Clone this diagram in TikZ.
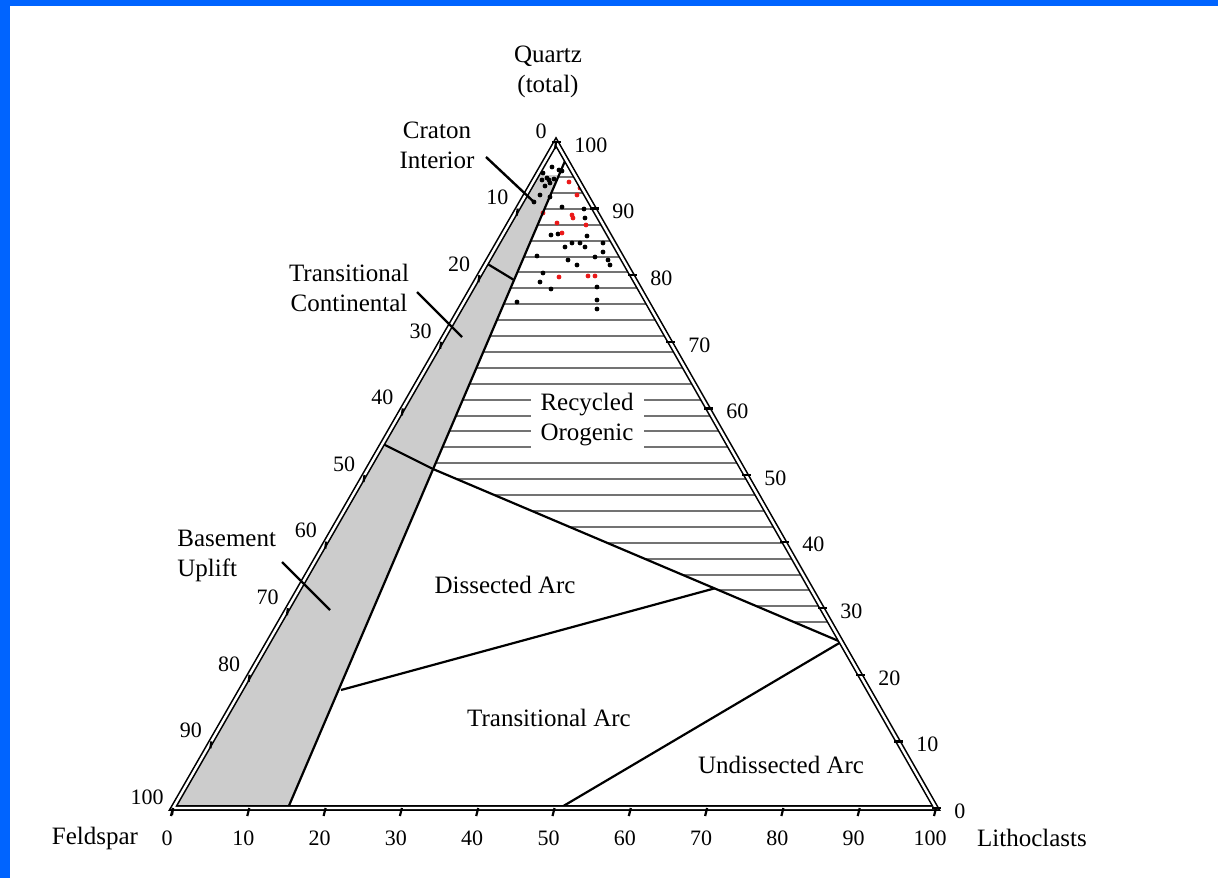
\documentclass[tikz,border=0pt]{standalone}
\usepackage{fontspec}
\setmainfont{Liberation Serif}
\usetikzlibrary{calc}
\definecolor{frameblue}{RGB}{0,100,255}
\definecolor{band}{RGB}{204,204,204}
\definecolor{dotred}{RGB}{235,25,25}
\tikzset{
  frame/.style={double,double distance=1.2pt,line width=0.8pt},
  field/.style={line width=1.1pt},
  hatch/.style={draw=black!55,line width=1pt},
  tickmark/.style={line width=1.1pt},
  num/.style={font=\fontsize{11}{13}\selectfont,inner sep=0pt},
  lab/.style={font=\fontsize{12.5}{15}\selectfont,align=center,inner sep=0pt},
  leader/.style={line width=1.2pt},
}
\begin{document}
\begin{tikzpicture}[x=0.5pt,y=-0.5pt]
  \useasboundingbox (0,0) rectangle (1218,878);
  \fill[frameblue] (0,0) rectangle (1218,6);
  \fill[frameblue] (0,0) rectangle (10,878);
  % corners of the diagram
  \coordinate (Q) at (556,142);
  \coordinate (F) at (173,808);
  \coordinate (L) at (936,808);
  % field boundaries
  \coordinate (ktop) at (565,161);
  \coordinate (kbot) at (288,808);
  \coordinate (ct1) at (486,263);
  \coordinate (ct2) at (514,280);
  \coordinate (bu1) at (383,444);
  \coordinate (bu2) at (433,469);
  \coordinate (ro) at (841,642);
  \coordinate (da1) at (341,690);
  \coordinate (da2) at ($(bu2)!0.69!(ro)$);
  \coordinate (ua) at (560,808);
  % continental block
  \fill[band] (537,175) -- (559,175) -- (kbot) -- (F) -- cycle;
  % recycled orogen hatching
  \begin{scope}
    \clip (ktop) -- (bu2) -- (ro) -- cycle;
    \foreach \k in {0,...,28}
      \draw[hatch] (400,177+15.9*\k) -- (900,177+15.9*\k);
  \end{scope}
  \node[lab,fill=white,inner xsep=5pt,inner ysep=3pt] (recyc) at (587,420) {Recycled\\Orogenic};
  % data points
  \foreach \x/\y in {552/167,559/170,543/173,547/178,549/180,554/179,542/180,562/171,
    545/186,550/183,540/195,534/202,550/197,562/207,584/209,597/214,551/235,558/234,
    537/256,568/260,577/265,587/236,580/243,595/257,603/252,608/260,610/265,540/282,
    543/273,551/289,597/287,517/302,597/300,597/309,565/247,572/243,585/247,603/243,585/218}
    \fill (\x,\y) circle (2.4);
  \foreach \x/\y in {569/182,580/188,577/195,543/213,572/215,573/218,557/223,586/225,
    605/227,562/233,559/277,588/276,595/276}
    \fill[dotred] (\x,\y) circle (2.4);
  % field lines
  \draw[field] (ktop) -- (kbot);
  \draw[field] (ct1) -- (ct2);
  \draw[field] (bu1) -- (bu2) -- (ro);
  \draw[field] (da1) -- (da2);
  \draw[field] (ro) -- (ua);
  % outline
  \draw[frame] (Q) -- (F) -- (L) -- cycle;
  % ticks and numbers
  \foreach \i in {0,...,10}{
    \pgfmathtruncatemacro{\v}{10*\i}
    \pgfmathtruncatemacro{\w}{100-10*\i}
    \coordinate (tf\i) at ($(Q)!\i/10!(F)$);
    \coordinate (tq\i) at ($(Q)!\i/10!(L)$);
    \coordinate (tl\i) at ($(F)!\i/10!(L)$);
    \draw[tickmark] (tf\i) -- ++(-1,7);
    \draw[tickmark] (tq\i) ++(-4,0) -- ++(9,0);
    \draw[tickmark] (tl\i) -- ++(-2,8);
    \node[num,anchor=east] (nf\i) at ($(tf\i)+(-9,-11)$) {\v};
    \node[num,anchor=west] (nq\i) at ($(tq\i)+(18,3)$) {\w};
    \node[num] (nl\i) at ($(tl\i)+(-6,30)$) {\v};
  }
  % corner names
  \node[lab] (quartz) at (548,72) {Quartz\\(total)};
  \node[lab] (feld) at (95,838) {Feldspar};
  \node[lab] (litho) at (1032,838) {Lithoclasts};
  % field names
  \node[lab] (craton) at (437,145) {Craton\\Interior};
  \node[lab] (trcont) at (349,288) {Transitional\\Continental};
  \node[lab,align=left,anchor=west] (basup) at (177,556) {Basement\\Uplift};
  \node[lab] (dissec) at (505,585) {Dissected Arc};
  \node[lab] (trarc) at (549,718) {Transitional Arc};
  \node[lab] (undis) at (781,765) {Undissected Arc};
  % leaders
  \coordinate (cil1) at (486,157);
  \coordinate (cil2) at (535,203);
  \coordinate (tcl1) at (417,292);
  \coordinate (tcl2) at (462,337);
  \coordinate (bul1) at (282,562);
  \coordinate (bul2) at (330,610);
  \draw[leader] (cil1) -- (cil2);
  \draw[leader] (tcl1) -- (tcl2);
  \draw[leader] (bul1) -- (bul2);
\end{tikzpicture}
\end{document}
